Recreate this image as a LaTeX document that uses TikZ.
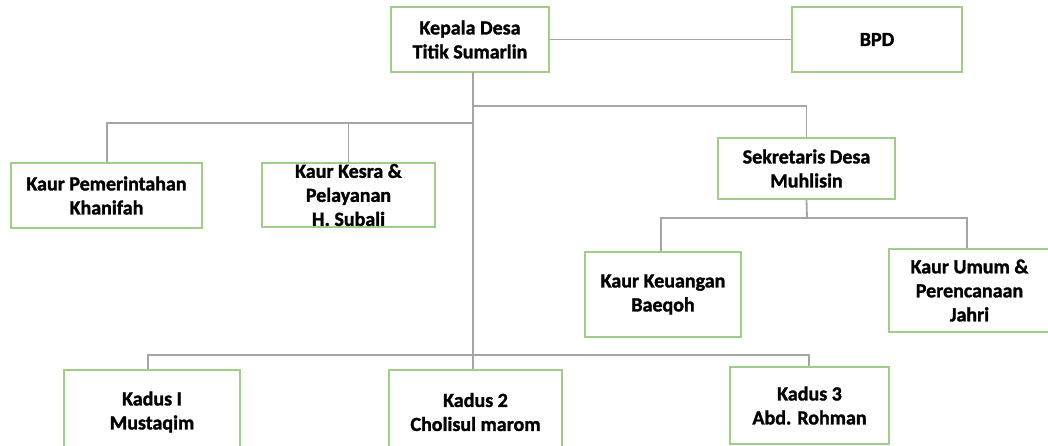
\documentclass[tikz,border=0pt]{standalone}
\usepackage{fontspec}
\setmainfont{Carlito}[BoldFeatures={FakeBold=1.5}]
\begin{document}
\begin{tikzpicture}[x=1pt,y=-1pt,
  box/.style={draw=boxgreen,line width=2pt,fill=white,align=center,inner sep=0pt,
    font=\bfseries\fontsize{20}{24}\selectfont,text=black},
  conn/.style={draw=linegray,line width=1.8pt}]
\definecolor{boxgreen}{RGB}{160,205,135}
\definecolor{linegray}{RGB}{165,165,165}
\clip (0,0) rectangle (1048,446);
\fill[white] (0,0) rectangle (1048,446);
% nodes
\node[box,minimum width=158,minimum height=65] (kepala) at (470,39.5) {Kepala Desa\\Titik Sumarlin};
\node[box,minimum width=170,minimum height=65] (bpd) at (877,39.5) {BPD};
\node[box,minimum width=191,minimum height=65] (kp) at (106.5,195.5) {Kaur Pemerintahan\\Khanifah};
\node[box,minimum width=173,minimum height=64] (kk) at (348.5,195) {Kaur Kesra \&\\Pelayanan\\H. Subali};
\node[box,minimum width=177,minimum height=61] (sek) at (806.5,168.5) {Sekretaris Desa\\Muhlisin};
\node[box,minimum width=156,minimum height=85] (keu) at (663,294.5) {Kaur Keuangan\\Baeqoh};
\node[box,minimum width=161,minimum height=83] (umum) at (969.5,290.5) {Kaur Umum \&\\Perencanaan\\Jahri};
\node[box,minimum width=176,minimum height=84] (kd1) at (152,412) {Kadus I\\Mustaqim};
\node[box,minimum width=173,minimum height=84] (kd2) at (475.5,412) {Kadus 2\\Cholisul marom};
\node[box,minimum width=159,minimum height=77] (kd3) at (809.5,405.5) {Kadus 3\\Abd. Rohman};
% coordinates of the bus lines
\coordinate (top) at (473,72);
\coordinate (b1) at (473,106);
\coordinate (b2) at (473,123);
\coordinate (b3) at (473,355);
\coordinate (s1) at (807,218);
% connectors
\draw[conn] (kepala.east) -- (bpd.west);
\draw[conn] (top) -- (b3);
\draw[conn] (b1) -| (sek.north);
\draw[conn] (b2) -| ([xshift=0.5]kp.north);
\draw[conn] (kk.north |- b2) -- (kk.north);
\draw[conn] (sek.south) -- (s1);
\draw[conn] ([xshift=-2]keu.north) |- (s1) -| ([xshift=-2.5]umum.north);
\draw[conn] ([xshift=-4]kd1.north) |- (b3) -| ([xshift=-0.5]kd3.north);
\draw[conn] (b3) -- (b3 |- kd2.north);
\end{tikzpicture}
\end{document}
